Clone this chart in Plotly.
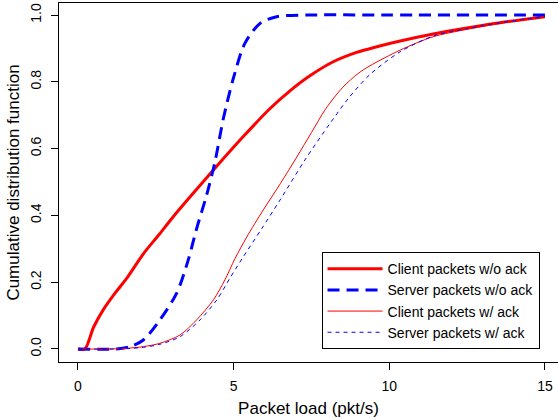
import plotly.graph_objects as go

# Packet load (pkt/s) vs CDF
client_noack_x = [0, 0.22, 0.5, 0.81, 1.19, 1.6, 2.1, 2.6, 3.06, 3.7, 4.35, 5.31, 6.17, 6.81, 7.45, 8.2, 8.95, 9.6, 10.35, 11.41, 12.49, 13.56, 15]
client_noack_y = [0, 0, 0.065, 0.117, 0.167, 0.216, 0.285, 0.342, 0.396, 0.466, 0.536, 0.636, 0.72, 0.773, 0.818, 0.86, 0.888, 0.905, 0.922, 0.943, 0.961, 0.977, 0.995]

server_noack_x = [0, 1.24, 1.7, 2.1, 2.63, 3.17, 3.54, 3.81, 4.13, 4.4, 4.67, 4.99, 5.36, 5.85, 6.38, 7.45, 10, 15]
server_noack_y = [0, 0, 0.008, 0.027, 0.087, 0.167, 0.266, 0.36, 0.46, 0.56, 0.69, 0.81, 0.915, 0.975, 0.995, 1.0, 1.0, 1.0]

client_ack_x = [0, 1.0, 1.56, 2.1, 2.63, 3.28, 3.81, 4.35, 4.72, 5.04, 5.42, 5.95, 6.5, 7.03, 7.5, 7.95, 8.5, 9.0, 9.38, 10.35, 11.41, 12.49, 13.56, 15]
client_ack_y = [0, 0, 0.002, 0.007, 0.017, 0.042, 0.087, 0.147, 0.207, 0.27, 0.335, 0.416, 0.495, 0.575, 0.648, 0.718, 0.783, 0.825, 0.848, 0.895, 0.935, 0.957, 0.975, 0.995]

server_ack_x = [0, 1.0, 1.56, 2.1, 2.63, 3.28, 3.92, 4.46, 4.88, 5.31, 5.9, 6.49, 7.29, 8.1, 8.7, 9.38, 10.35, 11.41, 12.49, 13.56, 15]
server_ack_y = [0, 0, 0.001, 0.005, 0.014, 0.037, 0.087, 0.147, 0.212, 0.276, 0.36, 0.446, 0.566, 0.676, 0.752, 0.822, 0.89, 0.937, 0.959, 0.977, 0.995]

x_ticks = [0, 5, 10, 15]
y_ticks = [0.0, 0.2, 0.4, 0.6, 0.8, 1.0]
y_ticktext = ["0.0", "0.2", "0.4", "0.6", "0.8", "1.0"]

FONT = "Liberation Sans, Arial, Helvetica, sans-serif"

fig = go.Figure()
fig.add_trace(go.Scatter(x=client_noack_x, y=client_noack_y, mode="lines",
                         name="Client packets w/o ack",
                         line=dict(color="#FF0000", width=3, shape="spline", smoothing=0.8)))
fig.add_trace(go.Scatter(x=server_noack_x, y=server_noack_y, mode="lines",
                         name="Server packets w/o ack",
                         line=dict(color="#0000FF", width=3, dash="12px,7px", shape="spline", smoothing=0.8)))
fig.add_trace(go.Scatter(x=client_ack_x, y=client_ack_y, mode="lines",
                         name="Client packets w/ ack",
                         line=dict(color="#FF0000", width=1, shape="spline", smoothing=0.8)))
fig.add_trace(go.Scatter(x=server_ack_x, y=server_ack_y, mode="lines",
                         name="Server packets w/ ack",
                         line=dict(color="#0000FF", width=1, dash="4px,4px", shape="spline", smoothing=0.8)))

fig.update_layout(
    width=558, height=418,
    margin=dict(l=59, r=0, t=3, b=56),
    paper_bgcolor="white", plot_bgcolor="white",
    font=dict(family=FONT, size=14, color="black"),
    showlegend=True,
    legend=dict(x=0.963, xanchor="right", y=0.036, yanchor="bottom",
                bgcolor="white", bordercolor="black", borderwidth=1,
                font=dict(family=FONT, size=14, color="black"),
                itemwidth=55, tracegroupgap=0),
    xaxis=dict(range=[-0.61, 15.42], tickvals=x_ticks, ticks="outside", ticklen=7,
               tickcolor="black", showline=True, linecolor="black", linewidth=1,
               mirror=True, showgrid=False, zeroline=False, automargin=False,
               ticklabelstandoff=4,
               title=dict(text="Packet load (pkt/s)", standoff=9)),
    yaxis=dict(range=[-0.039, 1.036], tickvals=y_ticks, ticktext=y_ticktext,
               tickangle=-90, ticks="outside", ticklen=7, tickcolor="black",
               showline=True, linecolor="black", linewidth=1, automargin=False,
               showgrid=False, zeroline=False, ticklabelstandoff=4,
               title=dict(text="Cumulative distribution function", standoff=4)),
)

fig.write_html("out.html",
               config={"displayModeBar": False},
               post_script="document.body.style.margin='0';document.body.style.overflow='hidden';")
